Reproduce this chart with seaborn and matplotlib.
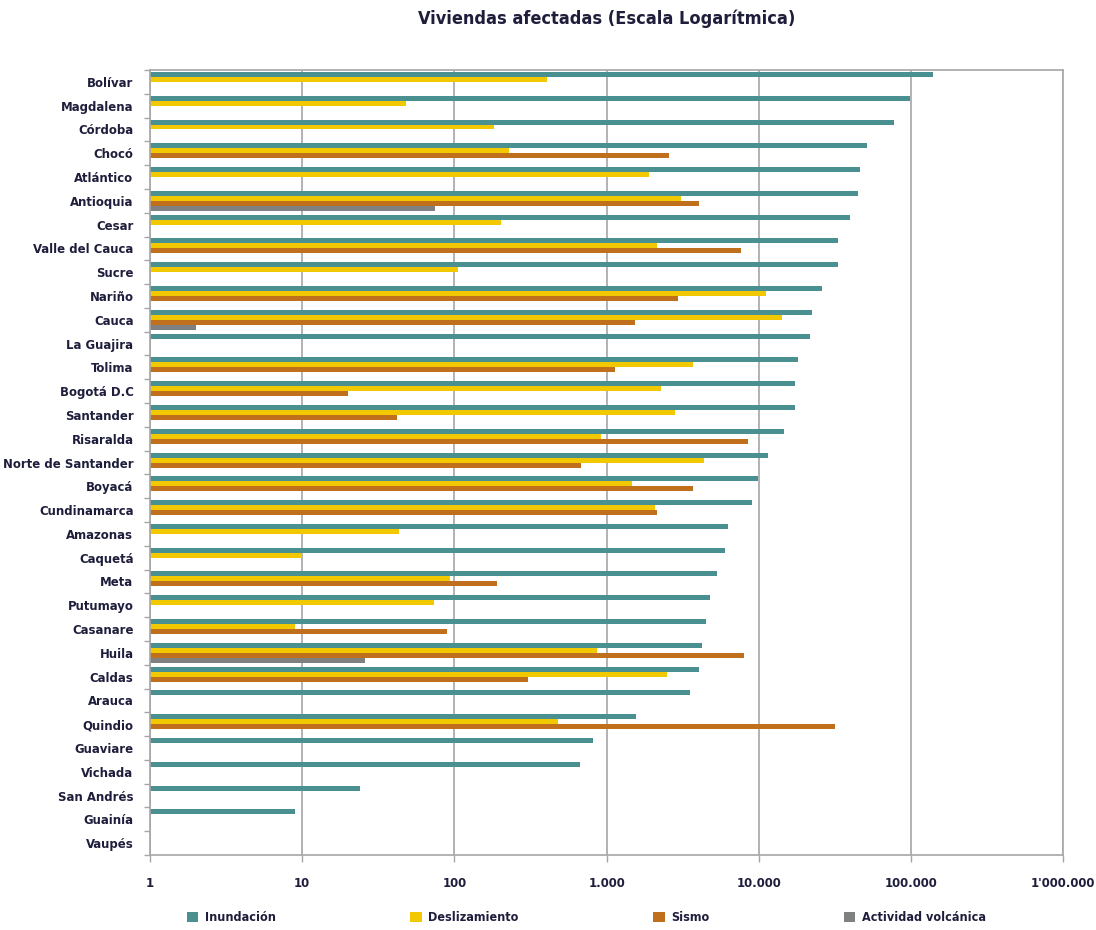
import numpy as np
import pandas as pd
import seaborn as sns
import matplotlib.pyplot as plt
from matplotlib.ticker import FixedLocator, FixedFormatter

# =====================================================================
#   Datos: viviendas afectadas por departamento y tipo de evento
# =====================================================================

departamentos = [
    'Bolívar', 'Magdalena', 'Córdoba', 'Chocó', 'Atlántico', 'Antioquia', 'Cesar',
    'Valle del Cauca', 'Sucre', 'Nariño', 'Cauca', 'La Guajira', 'Tolima',
    'Bogotá D.C', 'Santander', 'Risaralda', 'Norte de Santander', 'Boyacá',
    'Cundinamarca', 'Amazonas', 'Caquetá', 'Meta', 'Putumayo', 'Casanare',
    'Huila', 'Caldas', 'Arauca', 'Quindio', 'Guaviare', 'Vichada', 'San Andrés',
    'Guainía', 'Vaupés',
]

nan = np.nan
inundacion = [
    140000, 98000, 77000, 51000, 46500, 45000, 39600, 33000, 33000, 25900, 22200,
    21700, 18200, 17300, 17300, 14700, 11500, 9900, 9000, 6270, 6000, 5300, 4800,
    4470, 4260, 4040, 3540, 1570, 810, 665, 24, 9, nan,
]
deslizamiento = [
    403, 48, 182, 228, 1900, 3100, 203, 2150, 105, 11100, 14200, nan, 3700, 2270,
    2800, 915, 4350, 1470, 2080, 43, 10, 93, 73, 9, 868, 2500, nan, 480, nan, nan,
    nan, nan, nan,
]
sismo = [
    nan, nan, nan, 2560, nan, 4060, nan, 7600, nan, 2950, 1540, nan, 1140, 20, 42,
    8500, 680, 3720, 2130, nan, nan, 189, nan, 89, 8000, 305, nan, 31800, nan, nan,
    nan, nan, nan,
]
volcanica = [
    nan, nan, nan, nan, nan, 74, nan, nan, nan, nan, 2, nan, nan, nan, nan, nan,
    nan, nan, nan, nan, nan, nan, nan, nan, 26, nan, nan, nan, nan, nan, nan, nan,
    nan,
]

eventos = ['Inundación', 'Deslizamiento', 'Sismo', 'Actividad volcánica']
colores = ['#4A9090', '#F2C900', '#C0701C', '#7F8080']

ticks_x = [1, 10, 100, 1000, 10000, 100000, 1000000]
rotulos_x = ['1', '10', '100', '1.000', '10.000', '100.000', "1'000.000"]

df = pd.DataFrame({
    'Departamento': departamentos,
    'Inundación': inundacion,
    'Deslizamiento': deslizamiento,
    'Sismo': sismo,
    'Actividad volcánica': volcanica,
})
df_long = df.melt(id_vars='Departamento', var_name='Evento', value_name='Viviendas')
df_long = df_long.dropna()

# =====================================================================
#   Plot
# =====================================================================

COR_TEXTO = '#1E1E3C'
COR_GRADE = '#A6A6A6'

sns.set_style('white')
plt.rcParams['font.family'] = ['DejaVu Sans']
plt.rcParams['font.stretch'] = 'condensed'

fig = plt.figure(figsize=(10.96, 9.30), dpi=100)
ax = fig.add_axes([0.1369, 0.0806, 0.8332, 0.8441])
ax.set_xscale('log')

sns.barplot(
    data=df_long,
    x='Viviendas',
    y='Departamento',
    hue='Evento',
    order=departamentos,
    hue_order=eventos,
    palette=colores,
    saturation=1,
    orient='h',
    width=0.84,
    errorbar=None,
    linewidth=0,
    legend=True,
    ax=ax,
)

ax.set_xlim(1, 1000000)
ax.set_ylim(len(departamentos) - 0.5, -0.5)

# Grade vertical nas décadas
ax.set_axisbelow(True)
ax.xaxis.set_major_locator(FixedLocator(ticks_x))
ax.xaxis.set_major_formatter(FixedFormatter(rotulos_x))
ax.xaxis.set_minor_locator(FixedLocator([]))
ax.grid(axis='x', color=COR_GRADE, linewidth=1.2)
ax.grid(axis='y', visible=False)

# Ticks do eixo Y entre as categorias
ax.set_yticks(np.arange(len(departamentos) + 1) - 0.5, minor=True)
ax.tick_params(axis='y', which='minor', length=4, width=1, color=COR_GRADE, left=True)
ax.tick_params(axis='y', which='major', length=0, pad=12)
ax.tick_params(axis='x', which='major', length=5, width=1, color=COR_GRADE, bottom=True, pad=11)

for lbl in ax.get_yticklabels():
    lbl.set_fontsize(9.4)
    lbl.set_fontweight('bold')
    lbl.set_color(COR_TEXTO)
for lbl in ax.get_xticklabels():
    lbl.set_fontsize(9.4)
    lbl.set_fontweight('bold')
    lbl.set_color(COR_TEXTO)

for lado in ['left', 'bottom', 'top', 'right']:
    ax.spines[lado].set_color(COR_GRADE)
    ax.spines[lado].set_linewidth(1.2)
    ax.spines[lado].set_visible(True)

ax.set_xlabel('')
ax.set_ylabel('')
ax.set_title('Viviendas afectadas (Escala Logarítmica)', fontsize=13, fontweight='bold',
             color=COR_TEXTO, pad=33)

# Legenda em uma linha, abaixo do eixo
handles, labels = ax.get_legend_handles_labels()
ax.get_legend().remove()
leg = fig.legend(
    handles, labels,
    loc='center', bbox_to_anchor=(0.535, 0.013), ncol=4, frameon=False,
    handlelength=0.9, handleheight=0.9, handletextpad=0.5, columnspacing=10.8,
    prop={'size': 9, 'weight': 'bold'},
)
for txt in leg.get_texts():
    txt.set_color(COR_TEXTO)

fig.savefig('out.png', dpi=100)
